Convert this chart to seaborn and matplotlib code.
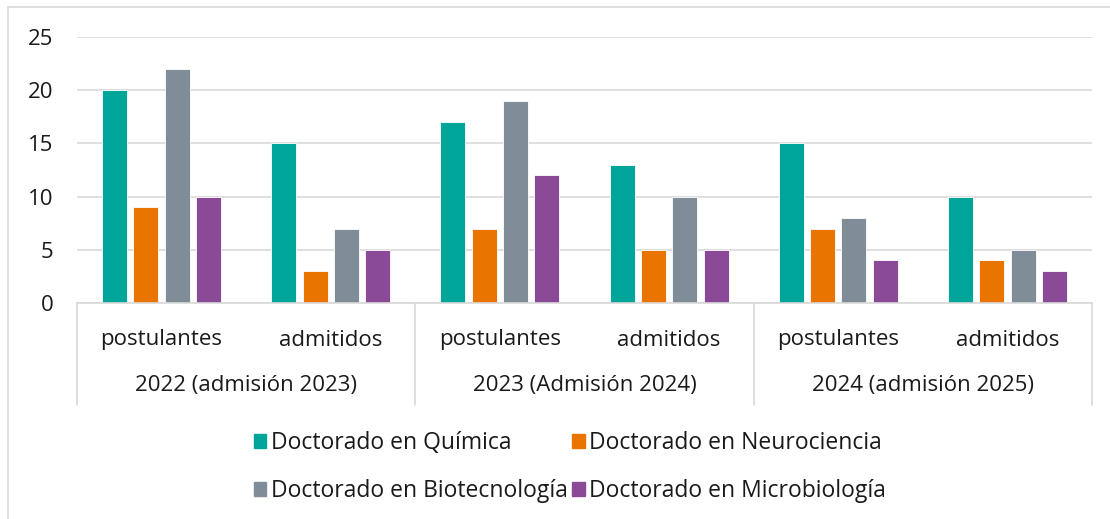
import pandas as pd
import matplotlib.pyplot as plt
import matplotlib.patches as mpatches
import seaborn as sns

# --- data ---
years = ["2022 (admisión 2023)", "2023 (Admisión 2024)", "2024 (admisión 2025)"]
stages = ["postulantes", "admitidos"]
programs = ["Doctorado en Química", "Doctorado en Neurociencia",
            "Doctorado en Biotecnología", "Doctorado en Microbiología"]
quimica = [20, 15, 17, 13, 15, 10]
neurociencia = [9, 3, 7, 5, 7, 4]
biotecnologia = [22, 7, 19, 10, 8, 5]
microbiologia = [10, 5, 12, 5, 4, 3]

colors = ["#00A59A", "#E97500", "#818C99", "#8B4A97"]

# long-form table for seaborn
slots = [f"{y}|{s}" for y in years for s in stages]
rows = []
for prog, vals in zip(programs, [quimica, neurociencia, biotecnologia, microbiologia]):
    for slot, v in zip(slots, vals):
        rows.append({"slot": slot, "programa": prog, "valor": v})
df = pd.DataFrame(rows)

sns.set_style("white")
plt.rcParams["font.family"] = ["Open Sans", "DejaVu Sans"]
fs = 16
txt = "#1a1a1a"

fig = plt.figure(figsize=(11.1, 5.19), dpi=100)
ax = fig.add_axes([77 / 1110, 1 - 303 / 519, (1092 - 77) / 1110, (303 - 37) / 519])

sns.barplot(data=df, x="slot", y="valor", hue="programa", order=slots,
            hue_order=programs, palette=colors, saturation=1, width=0.74, gap=0.2,
            edgecolor="white", linewidth=0.6, ax=ax, legend=False)

ax.set_ylim(0, 25)
ax.set_xlim(-0.5, len(slots) - 0.5)
ax.set_yticks(range(0, 26, 5))
ax.yaxis.grid(True, color="#d9d9d9", linewidth=1.2)
ax.set_axisbelow(True)
for side in ["top", "right", "left"]:
    ax.spines[side].set_visible(False)
ax.spines["bottom"].set_color("#d9d9d9")
ax.spines["bottom"].set_linewidth(1.2)
ax.tick_params(axis="y", length=0, pad=17, labelsize=fs, labelcolor=txt)
ax.set_xlabel("")
ax.set_ylabel("")

# multi-level category axis
ax.set_xticks([])
for i, slot in enumerate(slots):
    ax.text(i, -37 / 266, slot.split("|")[1], transform=ax.get_xaxis_transform(),
            ha="center", va="center", fontsize=fs, color=txt)
for j, year in enumerate(years):
    ax.text(2 * j + 0.5, -82 / 266, year, transform=ax.get_xaxis_transform(),
            ha="center", va="center", fontsize=fs, color=txt)
for xb in [-0.5, 1.5, 3.5, 5.5]:
    ax.plot([xb, xb], [0, -102 / 266], transform=ax.get_xaxis_transform(),
            color="#d9d9d9", linewidth=1.2, clip_on=False)

# legend (row-major order like the original: matplotlib fills by column)
handles = [mpatches.Patch(color=c, label=p) for c, p in zip(colors, programs)]
handles = [handles[0], handles[2], handles[1], handles[3]]
fig.legend(handles=handles, ncol=2, loc="center", bbox_to_anchor=(570 / 1110, 1 - 467 / 519),
           frameon=False, fontsize=16.5, handlelength=0.55, handleheight=0.55,
           handletextpad=0.2, columnspacing=0.2, labelspacing=1.05,
           labelcolor=txt)

# outer chart border
fig.patches.append(mpatches.Rectangle((8 / 1110, -0.1), 1.2, 1.1 - 7 / 519,
                                      transform=fig.transFigure, fill=False,
                                      edgecolor="#d9d9d9", linewidth=1.2))

fig.savefig("out.png", dpi=100)
